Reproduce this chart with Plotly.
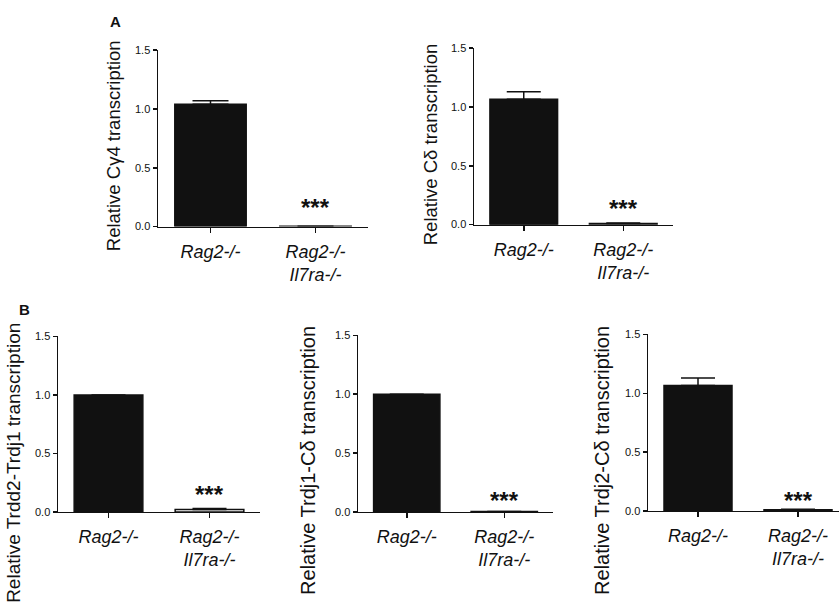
import plotly.graph_objects as go

W, H = 839, 612

categories = ["Rag2-/-", "Rag2-/-<br>Il7ra-/-"]
panel_titles = [
    "Relative Cγ4 transcription",
    "Relative Cδ transcription",
    "Relative Trdd2-Trdj1 transcription",
    "Relative Trdj1-Cδ transcription",
    "Relative Trdj2-Cδ transcription",
]
values = [
    [1.04, 0.003],
    [1.065, 0.01],
    [1.0, 0.02],
    [1.0, 0.003],
    [1.065, 0.01],
]
errors = [
    [0.03, 0.0],
    [0.065, 0.004],
    [0.0, 0.008],
    [0.0, 0.0],
    [0.065, 0.004],
]
star_y = [0.16, 0.14, 0.15, 0.10, 0.09]
y_ticks = [0.0, 0.5, 1.0, 1.5]
y_ticklabels = ["0.0", "0.5", "1.0", "1.5"]

# pixel layout for each panel
panels = [
    dict(x0=158, x1=368, ytop=45, ybot=225, xr=1.5, cap=18, tx=113, ty=143, tfs=18.5),
    dict(x0=474, x1=673, ytop=43, ybot=223, xr=1.5, cap=17, tx=430, ty=141, tfs=18.5),
    dict(x0=58, x1=260, ytop=337, ybot=516, xr=1.5, cap=17, tx=14, ty=466, tfs=19),
    dict(x0=358, x1=553, ytop=336, ybot=516, xr=1.5, cap=17, tx=308, ty=464, tfs=20),
    dict(x0=648, x1=839, ytop=335, ybot=515, xr=1.41, cap=17, tx=602, ty=464, tfs=20),
]

FONT = "Arial, Liberation Sans, Helvetica, sans-serif"

fig = go.Figure()
annotations = []
for i, p in enumerate(panels):
    n = "" if i == 0 else str(i + 1)
    xa = "x" + n
    ya = "y" + n
    fig.add_trace(go.Bar(
        x=[0, 1], y=values[i],
        width=0.68,
        marker=dict(color=["#111111", "#ffffff"], line=dict(color="#111111", width=1.5)),
        error_y=dict(type="data", symmetric=False, array=errors[i], arrayminus=[0, 0],
                     color="#111111", thickness=1.5, width=p["cap"]),
        xaxis=xa, yaxis=ya, showlegend=False, hoverinfo="skip",
    ))
    common_x = dict(
        domain=[p["x0"] / W, min(p["x1"] / W, 1.0)],
        range=[-0.5, p["xr"]],
        tickmode="array", tickvals=[0, 1],
        ticktext=["<i>" + c.replace("<br>", "</i><br><i>") + "</i>" for c in categories],
        showline=True, linecolor="#111111", linewidth=1.5,
        ticks="outside", ticklen=5, tickwidth=1.5, tickcolor="#111111",
        ticklabelstandoff=3,
        tickfont=dict(family=FONT, size=18, color="#111111"),
        showgrid=False, zeroline=False, anchor=ya, fixedrange=True,
    )
    common_y = dict(
        domain=[1 - p["ybot"] / H, 1 - p["ytop"] / H],
        range=[0, 1.5],
        tickmode="array", tickvals=y_ticks, ticktext=y_ticklabels,
        showline=True, linecolor="#111111", linewidth=1.5,
        ticks="outside", ticklen=4, tickwidth=1.5, tickcolor="#111111",
        tickfont=dict(family=FONT, size=11, color="#111111"),
        showgrid=False, zeroline=False, anchor=xa, fixedrange=True,
    )
    fig.update_layout(**{"xaxis" + n: common_x, "yaxis" + n: common_y})
    annotations.append(dict(
        x=1, y=star_y[i], xref=xa, yref=ya, text="<b>***</b>", showarrow=False,
        font=dict(family=FONT, size=24, color="#111111"),
        yanchor="middle", xanchor="center",
    ))
    annotations.append(dict(
        x=p["tx"] / W, y=1 - p["ty"] / H, xref="paper", yref="paper",
        text=panel_titles[i], textangle=-90, showarrow=False,
        font=dict(family=FONT, size=p["tfs"], color="#111111"),
        xanchor="center", yanchor="middle",
    ))

annotations.append(dict(x=115 / W, y=1 - 16 / H, xref="paper", yref="paper", text="<b>A</b>",
                        xanchor="center", yanchor="middle",
                        showarrow=False, font=dict(family=FONT, size=15, color="#111111")))
annotations.append(dict(x=24 / W, y=1 - 310 / H, xref="paper", yref="paper", text="<b>B</b>",
                        xanchor="center", yanchor="middle",
                        showarrow=False, font=dict(family=FONT, size=15, color="#111111")))

fig.update_layout(
    width=W, height=H,
    margin=dict(l=0, r=0, t=0, b=0),
    paper_bgcolor="white", plot_bgcolor="white",
    annotations=annotations,
    hovermode=False,
)

fig.write_html(
    "out.html",
    config={"displayModeBar": False, "staticPlot": True},
    post_script="document.body.style.margin='0';document.body.style.overflow='hidden';",
)
